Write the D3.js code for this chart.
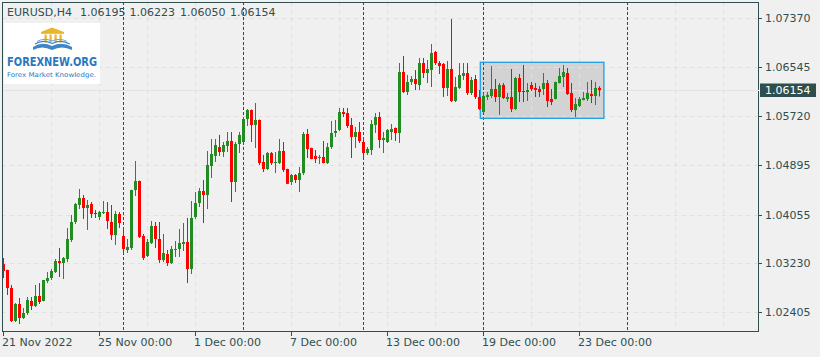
<!DOCTYPE html>
<html><head><meta charset="utf-8">
<script src="https://cdn.jsdelivr.net/npm/d3@7"></script>
<style>
html,body{margin:0;padding:0;background:#f0f0f0;}
svg{display:block;}
text{font-family:"DejaVu Sans",sans-serif;}
</style></head>
<body>
<svg id="c" width="820" height="357"></svg>
<script>
const symbol = "EURUSD,H4";
const opens = [1.03220,1.03119,1.02815,1.02258,1.02545,1.02309,1.02393,1.02596,1.02512,1.02680,
1.02596,1.02933,1.02984,1.03085,1.03271,1.03237,1.03305,1.03626,1.03930,1.04217,
1.04335,1.04166,1.04233,1.04082,1.04015,1.04082,1.04099,1.03930,1.03710,1.04065,
1.03693,1.03457,1.03491,1.04470,1.04622,1.03693,1.03356,1.03575,1.03863,1.03643,
1.03288,1.03389,1.03237,1.03457,1.03474,1.03558,1.03592,1.03136,1.04015,1.04250,
1.04453,1.04386,1.04876,1.05045,1.05196,1.05112,1.05214,1.05298,1.04605,1.05247,
1.05281,1.05669,1.05821,1.05568,1.05653,1.04943,1.04825,1.05095,1.04926,1.04926,
1.05129,1.04825,1.04605,1.04723,1.04639,1.04757,1.05416,1.05180,1.05045,1.05011,
1.05028,1.04926,1.05196,1.05433,1.05484,1.05787,1.05770,1.05568,1.05366,1.05450,
1.05281,1.05095,1.05146,1.05568,1.05703,1.05315,1.05281,1.05450,1.05518,1.05433,
1.06463,1.06125,1.06294,1.06345,1.06244,1.06615,1.06446,1.06497,1.06801,1.06615,
1.06598,1.06193,1.06514,1.05973,1.06193,1.06396,1.06446,1.06108,1.06345,1.06041,
1.05787,1.06041,1.06058,1.06176,1.06041,1.06244,1.06007,1.06041,1.05838,1.06362,
1.06142,1.06125,1.06244,1.06193,1.06176,1.06176,1.06277,1.06007,1.06007,1.06277,
1.06379,1.06446,1.06108,1.05821,1.05888,1.05990,1.06007,1.06091,1.06058,1.06195];
const highs = [1.03322,1.03125,1.02866,1.02562,1.02646,1.02478,1.02663,1.02663,1.02866,1.02899,
1.02950,1.03085,1.03136,1.03305,1.03491,1.03339,1.03829,1.04049,1.04250,1.04487,
1.04386,1.04301,1.04267,1.04133,1.04116,1.04284,1.04267,1.04217,1.04116,1.04099,
1.03829,1.03643,1.04475,1.04960,1.04630,1.03727,1.03643,1.03947,1.03930,1.03930,
1.03727,1.03457,1.03525,1.03609,1.03812,1.03913,1.03998,1.04284,1.04436,1.04504,
1.04639,1.05129,1.05332,1.05332,1.05400,1.05281,1.05450,1.05450,1.05281,1.05450,
1.05703,1.05838,1.05830,1.05939,1.05660,1.05061,1.05112,1.05112,1.05112,1.05332,
1.05281,1.04830,1.04740,1.04740,1.04859,1.05450,1.05501,1.05185,1.05146,1.05061,
1.05298,1.05264,1.05636,1.05653,1.05855,1.05855,1.05855,1.05686,1.05535,1.05619,
1.05349,1.05196,1.05653,1.05770,1.05787,1.05450,1.05501,1.05585,1.05525,1.06615,
1.06733,1.06413,1.06396,1.06497,1.06700,1.06700,1.06666,1.06936,1.06818,1.06649,
1.06615,1.06649,1.07358,1.06379,1.06615,1.06615,1.06615,1.06379,1.06413,1.06159,
1.06108,1.06125,1.06564,1.06345,1.06277,1.06277,1.06108,1.06514,1.06379,1.06429,
1.06581,1.06277,1.06294,1.06277,1.06227,1.06446,1.06328,1.06176,1.06300,1.06530,
1.06581,1.06530,1.06277,1.06024,1.06041,1.06125,1.06294,1.06328,1.06294,1.06223];
const lows = [1.02984,1.02697,1.02241,1.02241,1.02207,1.02292,1.02360,1.02444,1.02495,1.02545,
1.02590,1.02899,1.02950,1.03068,1.03001,1.02967,1.03254,1.03592,1.03896,1.04149,
1.03981,1.03795,1.03998,1.03998,1.03964,1.04065,1.03812,1.03626,1.03542,1.03829,
1.03389,1.03406,1.03457,1.04369,1.03660,1.03288,1.03339,1.03558,1.03491,1.03237,
1.03254,1.03187,1.03220,1.03339,1.03339,1.03440,1.02899,1.03052,1.03981,1.04183,
1.03913,1.04149,1.04673,1.04943,1.05045,1.05028,1.05112,1.04267,1.04436,1.05095,
1.05275,1.05551,1.05281,1.05180,1.04893,1.04774,1.04808,1.04893,1.04757,1.04909,
1.04774,1.04570,1.04555,1.04588,1.04436,1.04723,1.05011,1.04990,1.04926,1.04909,
1.04920,1.04909,1.05163,1.05366,1.05467,1.05703,1.05518,1.05011,1.05180,1.05264,
1.05028,1.05061,1.05061,1.05433,1.05180,1.05095,1.05264,1.05315,1.05298,1.05264,
1.06108,1.06075,1.06244,1.06159,1.06159,1.06362,1.06277,1.06210,1.06582,1.06429,
1.06041,1.06058,1.05956,1.05956,1.06176,1.06328,1.06075,1.06075,1.06007,1.05821,
1.05770,1.05990,1.06024,1.05956,1.05737,1.06007,1.05956,1.05787,1.05821,1.05956,
1.05956,1.05973,1.06142,1.06041,1.06041,1.06075,1.05872,1.05905,1.06000,1.06270,
1.06210,1.06075,1.05787,1.05703,1.05872,1.05985,1.05973,1.05939,1.05905,1.06050];
const closes = [1.03102,1.02815,1.02258,1.02545,1.02309,1.02393,1.02613,1.02512,1.02680,1.02579,
1.02950,1.02984,1.03102,1.03271,1.03237,1.03322,1.03643,1.03930,1.04233,1.04335,
1.04166,1.04217,1.04065,1.04065,1.04099,1.04099,1.03947,1.03710,1.04065,1.03913,
1.03474,1.03508,1.04470,1.04622,1.03677,1.03322,1.03592,1.03863,1.03643,1.03288,
1.03406,1.03237,1.03474,1.03474,1.03575,1.03592,1.03136,1.03998,1.04250,1.04453,
1.04386,1.04893,1.05078,1.05230,1.05112,1.05230,1.05298,1.04605,1.05247,1.05400,
1.05669,1.05821,1.05568,1.05653,1.04926,1.04825,1.05095,1.04926,1.04943,1.05129,
1.04808,1.04575,1.04723,1.04639,1.04757,1.05416,1.05163,1.04994,1.04994,1.05028,
1.04926,1.05196,1.05433,1.05467,1.05787,1.05753,1.05551,1.05366,1.05450,1.05298,
1.05095,1.05163,1.05585,1.05703,1.05315,1.05349,1.05484,1.05501,1.05433,1.06463,
1.06125,1.06294,1.06345,1.06261,1.06615,1.06446,1.06514,1.06784,1.06615,1.06564,
1.06193,1.06514,1.05973,1.06210,1.06413,1.06446,1.06108,1.06328,1.06041,1.05838,
1.06058,1.06075,1.06176,1.06041,1.06244,1.06024,1.06041,1.05838,1.06362,1.06125,
1.06125,1.06159,1.06176,1.06159,1.06125,1.06277,1.05973,1.05956,1.06294,1.06396,
1.06463,1.06091,1.05821,1.05922,1.06007,1.06024,1.06108,1.06058,1.06193,1.06154];

const yTicks = [1.07370,1.06545,1.05720,1.04895,1.04055,1.03230,1.02405];
const xTickBars = [0,24,48,72,96,120,144];
const xTickLabels = ["21 Nov 2022","25 Nov 00:00","1 Dec 00:00","7 Dec 00:00","13 Dec 00:00","19 Dec 00:00","23 Dec 00:00"];
const separatorBars = [30,60,90,120,156];
const gridBars = [12,24,36,48,60,72,84,96,108,120,132,144,156,168,180];
const rectBars = [119.2,150.1];
const rectPrices = [1.06627,1.05681];
const lastPrice = 1.06154;
const header = ["1.06195","1.06223","1.06050","1.06154"];

const svg = d3.select("#c");
const L=2, R=758, T=2, B=331;
const x = d3.scaleLinear().domain([0,149]).range([3.5, 3.5+4*149]);
const y = d3.scaleLinear().domain([1.02405,1.07370]).range([312.3,18.3]);
const fmt = d3.format(".5f");
const dark = "#2f4f4f";

svg.append("rect").attr("width",820).attr("height",357).attr("fill","#f0f0f0");
svg.append("defs").append("clipPath").attr("id","pc").append("rect")
  .attr("x",L+0.5).attr("y",T+0.5).attr("width",R-L-1).attr("height",B-T-1);
const plot = svg.append("g").attr("clip-path","url(#pc)");

// rectangle object
plot.append("rect")
  .attr("x",x(rectBars[0])).attr("y",y(rectPrices[0]))
  .attr("width",x(rectBars[1])-x(rectBars[0])).attr("height",y(rectPrices[1])-y(rectPrices[0]))
  .attr("fill","#d3d3d3");

// grid
plot.selectAll(".hg").data(yTicks).enter().append("line")
  .attr("x1",L).attr("x2",R).attr("y1",d=>Math.round(y(d))+0.5).attr("y2",d=>Math.round(y(d))+0.5)
  .attr("stroke","#e0e0e0").attr("stroke-dasharray","4,4");
plot.selectAll(".vg").data(gridBars).enter().append("line")
  .attr("x1",d=>x(d)).attr("x2",d=>x(d)).attr("y1",T).attr("y2",B)
  .attr("stroke","#e0e0e0").attr("stroke-dasharray","4,4");
// separators
plot.selectAll(".sep").data(separatorBars).enter().append("line")
  .attr("x1",d=>x(d)).attr("x2",d=>x(d)).attr("y1",T).attr("y2",B)
  .attr("stroke",dark).attr("stroke-dasharray","3,2");
// bid line
plot.append("line").attr("x1",L).attr("x2",R)
  .attr("y1",Math.round(y(lastPrice))+0.5).attr("y2",Math.round(y(lastPrice))+0.5)
  .attr("stroke","#e2e2e2");

// rectangle border
plot.append("rect")
  .attr("x",x(rectBars[0])).attr("y",y(rectPrices[0]))
  .attr("width",x(rectBars[1])-x(rectBars[0])).attr("height",y(rectPrices[1])-y(rectPrices[0]))
  .attr("fill","none").attr("stroke","#1e9fe6").attr("stroke-width",1.3);

// candles
const idx = d3.range(opens.length);
const col = i => closes[i] >= opens[i] ? "#228b22" : "#ff0000";
const cg = plot.append("g");
cg.selectAll(".w").data(idx).enter().append("line")
  .attr("x1",i=>x(i)).attr("x2",i=>x(i))
  .attr("y1",i=>y(highs[i])).attr("y2",i=>y(lows[i]))
  .attr("stroke",col).attr("stroke-width",1);
cg.selectAll(".b").data(idx).enter().append("rect")
  .attr("x",i=>x(i)-1.5).attr("width",3)
  .attr("y",i=>Math.min(y(opens[i]),y(closes[i])))
  .attr("height",i=>Math.max(1,Math.abs(y(opens[i])-y(closes[i]))))
  .attr("fill",col);

// border
svg.append("rect").attr("x",L+0.5).attr("y",T+0.5).attr("width",R-L).attr("height",B-T)
  .attr("fill","none").attr("stroke",dark);

// y axis
const ya = svg.append("g");
ya.selectAll("line").data(yTicks).enter().append("line")
  .attr("x1",R).attr("x2",R+4).attr("y1",d=>Math.round(y(d))+0.5).attr("y2",d=>Math.round(y(d))+0.5)
  .attr("stroke",dark);
ya.selectAll("text").data(yTicks).enter().append("text")
  .attr("x",765).attr("y",d=>y(d)+4).attr("font-size",11).attr("fill",dark)
  .text(d=>fmt(d));
// last price box
const ly = y(lastPrice);
svg.append("rect").attr("x",760).attr("y",ly-6.8).attr("width",56).attr("height",13.5).attr("fill",dark);
svg.append("line").attr("x1",R).attr("x2",760).attr("y1",Math.round(ly)+0.5).attr("y2",Math.round(ly)+0.5).attr("stroke","#ffffff");
svg.append("text").attr("x",765).attr("y",ly+4).attr("font-size",11).attr("fill","#ffffff").text(fmt(lastPrice));

// x axis
const xa = svg.append("g");
xa.selectAll("line").data(xTickBars).enter().append("line")
  .attr("x1",d=>x(d)).attr("x2",d=>x(d)).attr("y1",B).attr("y2",B+5).attr("stroke",dark);
xa.selectAll("text").data(xTickBars).enter().append("text")
  .attr("x",d=>x(d)-1.5).attr("y",346).attr("font-size",11).attr("fill",dark)
  .text((d,i)=>xTickLabels[i]);

// header
svg.append("text").attr("x",7).attr("y",16).attr("font-size",11).attr("fill",dark).text(symbol);
const hx = [80,129.5,180,230];
header.forEach((h,i)=>svg.append("text").attr("x",hx[i]).attr("y",16).attr("font-size",11).attr("fill",dark).text(h));

// logo
const lg = svg.append("g");
lg.append("rect").attr("x",4).attr("y",23).attr("width",96).attr("height",61).attr("fill","#ffffff");
lg.append("path").attr("d","M41,32 L52,27.5 L64,32 Z").attr("fill","#e8b52c");
lg.append("rect").attr("x",41).attr("y",32).attr("width",23).attr("height",1.8).attr("fill","#e8b52c");
[44.5,49.5,54.5,59.5].forEach(px=>lg.append("rect").attr("x",px).attr("y",34.5).attr("width",2.2).attr("height",8).attr("fill","#e8b52c"));
lg.append("path").attr("d","M33,47 Q42,41 52,46 Q62,41 72,47 L72,50 Q62,45 52,50 Q42,45 33,50 Z").attr("fill","#3f86c8");
lg.append("path").attr("d","M35,44 Q43,39 52,43.5 Q61,39 70,44").attr("fill","none").attr("stroke","#3f86c8").attr("stroke-width",1.2);
lg.append("path").attr("d","M37,41.5 Q44,37.5 52,41 Q60,37.5 67,41.5").attr("fill","none").attr("stroke","#6aa6da").attr("stroke-width",1);
lg.append("text").attr("x",7).attr("y",65.5).attr("font-family","Liberation Sans, Arial, sans-serif")
  .attr("font-weight","bold").attr("font-size",12).attr("textLength",90).attr("lengthAdjust","spacingAndGlyphs")
  .attr("fill","#2a78c0").text("FOREXNEW.ORG");
lg.append("text").attr("x",7).attr("y",76.5).attr("font-family","Liberation Sans, Arial, sans-serif")
  .attr("font-size",6.5).attr("textLength",89).attr("lengthAdjust","spacingAndGlyphs")
  .attr("fill","#2a78c0").text("Forex Market Knowledge.");
</script>
</body></html>
